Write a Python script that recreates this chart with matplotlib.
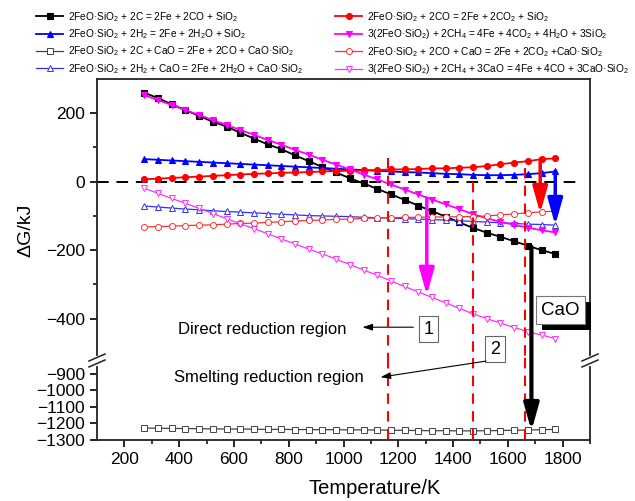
import matplotlib.pyplot as plt
from matplotlib import rcParams
from matplotlib.lines import Line2D
import matplotlib.patheffects as pe

rcParams['font.family'] = 'Liberation Sans'
rcParams['mathtext.fontset'] = 'custom'
rcParams['mathtext.rm'] = 'Liberation Sans'
rcParams['mathtext.it'] = 'Liberation Sans:italic'
rcParams['mathtext.bf'] = 'Liberation Sans:bold'

# Температура, K
temps = [273, 323, 373, 423, 473, 523, 573, 623, 673, 723, 773, 823, 873, 923, 973, 1023,
         1073, 1123, 1173, 1223, 1273, 1323, 1373, 1423, 1473, 1523, 1573, 1623, 1673, 1723, 1773]

# ΔG, kJ
dg_c = [260, 244, 226, 209, 192, 175, 161, 143, 126, 109, 95, 77, 60, 43, 27, 10,
        -5, -21, -37, -53, -70, -86, -102, -119, -135, -149, -161, -174, -187, -200, -211]
dg_h2 = [66, 64, 62, 60, 58, 56, 54, 52, 50, 48, 46, 44, 42, 40, 38, 36,
         34, 32, 30, 28, 27, 25, 23, 22, 20, 19, 19, 20, 22, 25, 30]
dg_c_cao = [-1228, -1229, -1230, -1231, -1232, -1233, -1234, -1234, -1235, -1236, -1236,
            -1237, -1237, -1238, -1238, -1239, -1239, -1240, -1241, -1242, -1243, -1244,
            -1244, -1245, -1245, -1244, -1243, -1241, -1240, -1238, -1236]
dg_h2_cao = [-71, -74, -77, -80, -82, -85, -87, -89, -91, -93, -95, -97, -99, -100, -101, -102,
             -104, -105, -106, -108, -109, -111, -112, -114, -116, -118, -120, -122, -124, -125, -127]
dg_co = [7, 9, 11, 13, 15, 17, 19, 21, 23, 24, 26, 27, 28, 30, 31, 32,
         33, 34, 36, 36, 37, 39, 39, 41, 42, 46, 51, 56, 60, 66, 68]
dg_ch4 = [253, 238, 224, 209, 195, 180, 166, 151, 137, 122, 108, 93, 79, 64, 50, 36,
          21, 7, -8, -23, -37, -52, -66, -80, -95, -107, -117, -126, -134, -142, -148]
dg_co_cao = [-132, -131, -130, -128, -127, -126, -124, -122, -121, -119, -117, -115, -113, -112, -110, -109,
             -107, -106, -105, -104, -104, -103, -103, -102, -102, -100, -97, -94, -91, -88, -86]
dg_ch4_cao = [-19, -34, -49, -63, -78, -93, -108, -123, -137, -152, -167, -182, -197, -211, -226, -242,
              -258, -273, -290, -306, -322, -338, -354, -370, -386, -400, -413, -426, -438, -448, -458]

labels = [
    r'2FeO·SiO$_2$ + 2C = 2Fe + 2CO + SiO$_2$',
    r'2FeO·SiO$_2$ + 2H$_2$ = 2Fe + 2H$_2$O + SiO$_2$',
    r'2FeO·SiO$_2$ + 2C + CaO = 2Fe + 2CO + CaO·SiO$_2$',
    r'2FeO·SiO$_2$ + 2H$_2$ + CaO = 2Fe + 2H$_2$O + CaO·SiO$_2$',
    r'2FeO·SiO$_2$ + 2CO = 2Fe + 2CO$_2$ + SiO$_2$',
    r'3(2FeO·SiO$_2$) + 2CH$_4$ = 4Fe + 4CO$_2$ + 4H$_2$O + 3SiO$_2$',
    r'2FeO·SiO$_2$ + 2CO + CaO = 2Fe + 2CO$_2$ +CaO·SiO$_2$',
    r'3(2FeO·SiO$_2$) + 2CH$_4$ + 3CaO = 4Fe + 4CO + 3CaO·SiO$_2$',
]

fig = plt.figure(figsize=(6.35, 5.01), dpi=100)
ax_lo = fig.add_axes([0.1528, 0.1218, 0.7764, 0.1636])
ax_up = fig.add_axes([0.1528, 0.2854, 0.7764, 0.5569])

filled = dict(lw=1.3, ms=4.3, mew=0.8)
hollow = dict(lw=0.9, ms=4.3, mew=0.7, mfc='white')

h1, = ax_up.plot(temps, dg_c, color='black', marker='s', **filled)
h2, = ax_up.plot(temps, dg_h2, color='blue', marker='^', **filled)
h3, = ax_lo.plot(temps, dg_c_cao, color='#444444', marker='s', **hollow)
h4, = ax_up.plot(temps, dg_h2_cao, color='#3030ff', marker='^', **hollow)
h5, = ax_up.plot(temps, dg_co, color='red', marker='o', **filled)
h6, = ax_up.plot(temps, dg_ch4, color='magenta', marker='v', **filled)
h7, = ax_up.plot(temps, dg_co_cao, color='#ff3030', marker='o', **hollow)
h8, = ax_up.plot(temps, dg_ch4_cao, color='#ff30ff', marker='v', **hollow)

# оси
for ax in (ax_up, ax_lo):
    ax.set_xlim(100, 1900)
    for s in ax.spines.values():
        s.set_linewidth(1.3)
        s.set_color('#222222')
    ax.tick_params(direction='out', length=5, width=1.2, labelsize=12.5, right=False, top=False)
    ax.tick_params(which='minor', direction='out', length=3, width=1.1)
ax_up.set_ylim(-515, 300)
ax_lo.set_ylim(-1300, -805)
ax_up.spines['bottom'].set_visible(False)
ax_lo.spines['top'].set_visible(False)
ax_up.tick_params(axis='x', which='both', bottom=False, labelbottom=False)
ax_up.set_yticks([200, 0, -200, -400])
ax_up.set_yticks([100, -100, -300], minor=True)
ax_lo.set_yticks([-900, -1000, -1100, -1200, -1300])
ax_lo.set_xticks(range(200, 1801, 200))
ax_lo.set_xticks(range(300, 1901, 200), minor=True)

# нулевая линия и границы областей
ax_up.axhline(0, xmin=0, xmax=(1860 - 100) / 1800, color='black', ls='--', dashes=(6, 4), lw=1.4, zorder=1)
for t, top in [(1163, 69), (1473, 0), (1663, 40)]:
    ax_up.plot([t, t], [top, -515], color='red', ls='--', dashes=(5, 3.5), lw=1.5, zorder=4)
    ax_lo.plot([t, t], [-805, -1300], color='red', ls='--', dashes=(5, 3.5), lw=1.5, zorder=4)

# стрелки
def big_arrow(x, y0, y1, color, lw=2.5, xycoords='data'):
    ax_up.annotate('', xy=(x, y1), xycoords=xycoords, xytext=(x, y0), textcoords='data',
                   arrowprops=dict(arrowstyle='-|>,head_length=1.6,head_width=0.45', mutation_scale=10,
                                   color=color, lw=lw, shrinkA=0, shrinkB=0),
                   annotation_clip=False, zorder=6)

big_arrow(1304, -48, -331, 'magenta')
big_arrow(1718, 66, -92, 'red')
big_arrow(1773, 30, -127, 'blue')
big_arrow(1686, -190, -1245, 'black', lw=3, xycoords=ax_lo.transData)

# CaO с тенью
cao = ax_up.text(1792, -375, 'CaO', fontsize=13.5, ha='center', va='center',
                 bbox=dict(boxstyle='square,pad=0.3', fc='white', ec='#777777', lw=0.8), zorder=8)
cao.get_bbox_patch().set_path_effects([
    pe.SimplePatchShadow(offset=(4.3, -4.3), shadow_rgbFace='black', alpha=1), pe.Normal()])

# области
numbox = dict(boxstyle='square,pad=0.25', fc='white', ec='#666666', lw=0.8)
small = dict(arrowstyle='-|>,head_length=0.6,head_width=0.2', color='black', lw=0.8, shrinkA=0, shrinkB=0)
ax_up.text(702, -431, 'Direct reduction region', fontsize=12, ha='center', va='center')
ax_up.text(1309, -431, '1', fontsize=13, ha='center', va='center', bbox=numbox)
ax_up.annotate('', xy=(1069, -425), xytext=(1255, -425), arrowprops=small, annotation_clip=False)
ax_up.text(727, -571, 'Smelting reduction region', fontsize=12, ha='center', va='center', clip_on=False)
ax_up.text(1553, -489, '2', fontsize=13, ha='center', va='center', bbox=numbox)
ax_up.annotate('', xy=(1135, -571), xytext=(1520, -524), arrowprops=small, annotation_clip=False)

# разрыв оси
def px(x, y):
    return x / 635, 1 - y / 501

for xc in (97, 590):
    gx, gy0 = px(xc, 357.5)
    _, gy1 = px(xc, 363.5)
    fig.add_artist(Line2D([gx, gx], [gy0, gy1], color='white', lw=3))
    for dy in (0, 6):
        a = px(xc - 8, 361 + dy)
        b = px(xc + 8, 354 + dy)
        fig.add_artist(Line2D([a[0], b[0]], [a[1], b[1]], color='#222222', lw=1.1))

fig.text(0.04, 1 - 230 / 501, 'ΔG/kJ', rotation=90, fontsize=14, ha='center', va='center')
fig.text(375 / 635, 1 - 489 / 501, 'Temperature/K', fontsize=14.5, ha='center', va='center')

handles = [h1, h2, h3, h4, h5, h6, h7, h8]
leg_kw = dict(loc='upper left', frameon=False, fontsize=7.3, handlelength=2.7, handletextpad=0.5,
              labelspacing=0.35, borderpad=0, borderaxespad=0, numpoints=1)
fig.legend(handles[:4], labels[:4], bbox_to_anchor=(36 / 635, 1 - 10 / 501), **leg_kw)
fig.legend(handles[4:], labels[4:], bbox_to_anchor=(335 / 635, 1 - 10 / 501), **leg_kw)

plt.savefig('out.png', dpi=100)
